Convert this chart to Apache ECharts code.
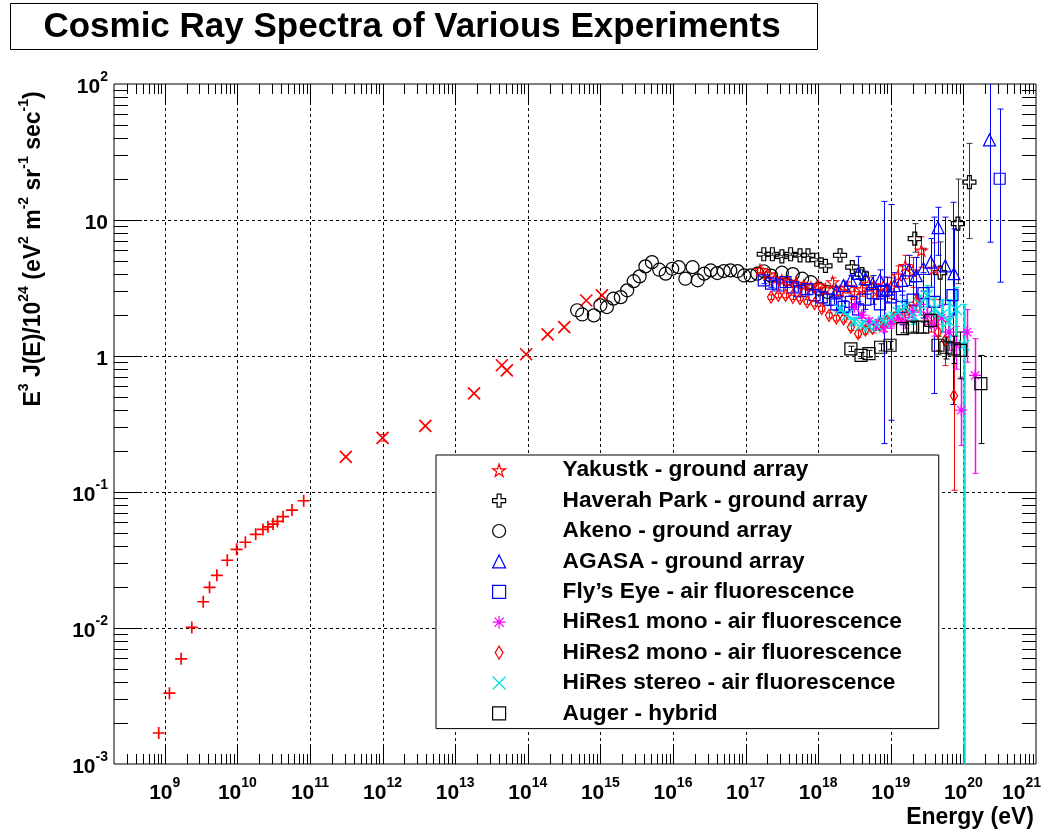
<!DOCTYPE html>
<html><head><meta charset="utf-8"><title>Cosmic Ray Spectra</title>
<script src="https://cdn.jsdelivr.net/npm/echarts@6.0.0/dist/echarts.min.js"></script>
<style>html,body{margin:0;padding:0;background:#fff;}#chart{width:1060px;height:830px;}</style>
</head><body><div id="chart"></div>
<script>
// ---------- axes ----------
const X_MIN = 2e8, X_MAX = 1e21, Y_MIN = 1e-3, Y_MAX = 1e2;
const xTickExps = [9, 10, 11, 12, 13, 14, 15, 16, 17, 18, 19, 20, 21];
const yTickValues = [1e-3, 1e-2, 1e-1, 1, 10, 100];
const yTickBase = ['10', '10', '10', '1', '10', '10'];
const yTickSup = ['-3', '-2', '-1', '', '', '2'];

// ---------- legend names ----------
const legendNames = [
  'Yakustk - ground array',
  'Haverah Park - ground array',
  'Akeno - ground array',
  'AGASA - ground array',
  'Fly\u2019s Eye - air fluorescence',
  'HiRes1 mono - air fluorescence',
  'HiRes2 mono - air fluorescence',
  'HiRes stereo - air fluorescence',
  'Auger - hybrid'
];

// ---------- data (E in eV, Y = E^3 J(E) / 1e24) ----------
// low-energy direct measurements (red +)
const directE = [8.26e8, 1.16e9, 1.68e9, 2.36e9, 3.39e9, 4.14e9, 5.22e9, 7.26e9, 9.77e9, 1.29e10, 1.79e10, 2.25e10, 2.64e10, 3.10e10, 3.56e10, 4.26e10, 5.66e10, 8.20e10];
const directY = [1.69e-3, 3.32e-3, 5.93e-3, 1.01e-2, 1.56e-2, 1.99e-2, 2.44e-2, 3.15e-2, 3.79e-2, 4.27e-2, 4.88e-2, 5.31e-2, 5.55e-2, 5.81e-2, 6.08e-2, 6.58e-2, 7.36e-2, 8.62e-2];
// mid-energy (red x)
const midE = [3.12e11, 1.0e12, 3.88e12, 1.82e13, 4.4e13, 5.15e13, 9.5e13, 1.88e14, 3.18e14, 6.4e14, 1.05e15];
const midY = [0.181, 0.25, 0.306, 0.532, 0.855, 0.785, 1.03, 1.44, 1.63, 2.56, 2.79];
const midErrE = [1.0e12];
const midErrLo = [0.237];
const midErrHi = [0.265];
// Yakutsk
const yakE = [1.58e17, 2.0e17, 2.51e17, 3.16e17, 3.98e17, 5.01e17, 6.31e17, 7.94e17, 1.0e18, 1.26e18, 1.58e18, 2.0e18, 2.51e18, 3.16e18, 3.98e18, 5.01e18, 6.31e18, 7.94e18, 1.0e19, 1.26e19, 1.58e19, 2.0e19, 2.63e19, 3.98e19];
const yakY = [4.3, 4.0, 3.7, 3.6, 3.5, 3.4, 3.3, 3.2, 3.3, 3.1, 3.5, 3.0, 3.2, 2.9, 3.1, 3.4, 3.0, 3.3, 3.2, 3.9, 4.6, 4.2, 5.97, 4.4];
const yakLo = [4.1, 3.85, 3.55, 3.45, 3.35, 3.25, 3.15, 3.05, 3.1, 2.9, 3.25, 2.75, 2.9, 2.6, 2.75, 3.0, 2.6, 2.8, 2.65, 3.2, 3.7, 3.2, 4.5, 2.6];
const yakHi = [4.5, 4.15, 3.85, 3.75, 3.65, 3.55, 3.45, 3.35, 3.5, 3.3, 3.75, 3.25, 3.5, 3.2, 3.45, 3.8, 3.4, 3.8, 3.75, 4.6, 5.5, 5.3, 7.5, 6.8];
// Haverah Park
const hpE = [1.78e17, 2.34e17, 3.16e17, 4.17e17, 5.62e17, 7.24e17, 9.55e17, 1.26e18, 2.0e18, 2.95e18, 4.0e18, 2.14e19, 4.79e19, 8.4e19, 1.21e20];
const hpY = [5.6, 5.6, 5.4, 5.6, 5.5, 5.5, 5.1, 4.6, 5.5, 4.5, 4.0, 7.3, 4.1, 9.4, 19.0];
const hpLo = [5.5, 5.5, 5.3, 5.5, 5.4, 5.4, 5.0, 4.5, 5.3, 4.3, 3.7, 5.8, 2.6, 3.4, 7.3];
const hpHi = [5.7, 5.7, 5.5, 5.7, 5.6, 5.6, 5.2, 4.7, 5.7, 4.7, 4.3, 9.4, 6.9, 20.0, 36.6];
// Akeno
const akE = [4.79e14, 5.62e14, 8.13e14, 1.0e15, 1.23e15, 1.51e15, 1.91e15, 2.34e15, 2.88e15, 3.47e15, 4.17e15, 5.13e15, 6.46e15, 7.94e15, 9.77e15, 1.2e16, 1.48e16, 1.86e16, 2.19e16, 2.69e16, 3.31e16, 4.07e16, 5.01e16, 6.17e16, 7.76e16, 9.55e16, 1.17e17, 1.45e17, 1.78e17, 2.24e17, 3.16e17, 4.47e17, 6.03e17, 7.94e17, 1.02e18, 1.35e18];
const akY = [2.17, 2.02, 1.99, 2.36, 2.29, 2.64, 2.71, 3.04, 3.55, 3.85, 4.56, 4.9, 4.31, 4.03, 4.38, 4.5, 3.7, 4.5, 3.6, 4.03, 4.26, 4.07, 4.21, 4.26, 4.21, 3.91, 3.91, 4.03, 4.2, 3.9, 4.1, 4.0, 3.7, 3.49, 3.12, 2.95];
// AGASA
const agE = [1.78e18, 2.24e18, 2.82e18, 3.55e18, 4.47e18, 5.62e18, 7.08e18, 8.91e18, 1.12e19, 1.41e19, 1.78e19, 2.24e19, 2.82e19, 3.55e19, 4.47e19, 5.62e19, 7.41e19, 2.29e20];
const agY = [3.0, 3.3, 3.6, 4.05, 3.7, 3.4, 3.6, 3.1, 3.3, 3.6, 4.3, 3.9, 4.4, 4.9, 8.8, 4.6, 4.03, 38.8];
const agLo = [2.8, 3.05, 3.3, 3.7, 3.3, 2.9, 3.0, 2.5, 2.6, 2.8, 3.3, 2.8, 3.0, 3.2, 5.5, 2.4, 2.0, 6.87];
const agHi = [3.2, 3.55, 3.9, 5.4, 4.2, 3.9, 4.3, 3.8, 4.1, 4.6, 5.5, 5.3, 6.2, 7.3, 12.4, 10.5, 8.6, 200];
// Fly's Eye
const feE = [1.78e17, 2.24e17, 2.82e17, 3.55e17, 4.47e17, 5.62e17, 7.08e17, 8.91e17, 1.12e18, 1.41e18, 1.78e18, 2.24e18, 2.82e18, 3.55e18, 4.47e18, 5.62e18, 7.08e18, 7.94e18, 1.0e19, 1.41e19, 2.0e19, 2.82e19, 3.98e19, 7.08e19, 3.16e20];
const feY = [3.6, 3.4, 3.3, 3.5, 3.2, 3.0, 3.1, 2.8, 2.7, 2.6, 2.4, 2.3, 2.5, 2.2, 2.6, 2.9, 2.4, 3.0, 2.7, 2.3, 2.6, 2.9, 2.5, 2.8, 20.1];
const feLo = [3.4, 3.2, 3.1, 3.3, 3.0, 2.8, 2.85, 2.55, 2.45, 2.35, 2.15, 2.05, 2.2, 1.9, 2.2, 2.4, 1.9, 0.227, 0.337, 1.7, 1.8, 1.9, 0.53, 0.44, 3.49];
const feHi = [3.8, 3.6, 3.5, 3.7, 3.4, 3.2, 3.35, 3.05, 2.95, 2.85, 2.65, 2.55, 2.8, 2.5, 3.0, 3.4, 3.0, 13.7, 13.0, 3.0, 3.5, 4.1, 10.5, 13.5, 65.5];
// HiRes1 mono
const h1E = [3.16e18, 3.98e18, 5.01e18, 6.31e18, 7.94e18, 1.0e19, 1.26e19, 1.58e19, 2.0e19, 2.51e19, 3.16e19, 3.98e19, 5.01e19, 6.31e19, 7.94e19, 9.33e19, 1.12e20, 1.45e20];
const h1Y = [2.3, 2.0, 1.8, 1.7, 1.6, 1.75, 1.9, 1.8, 2.1, 2.4, 2.0, 1.7, 1.9, 1.5, 1.2, 0.4, 1.5, 0.72];
const h1Lo = [2.2, 1.9, 1.7, 1.6, 1.5, 1.6, 1.75, 1.6, 1.85, 2.1, 1.7, 1.4, 1.5, 1.1, 0.8, 0.22, 0.9, 0.137];
const h1Hi = [2.4, 2.1, 1.9, 1.8, 1.7, 1.9, 2.05, 2.0, 2.35, 2.7, 2.3, 2.0, 2.35, 1.95, 1.65, 0.7, 2.2, 1.34];
// HiRes2 mono
const h2E = [2.24e17, 2.82e17, 3.55e17, 4.47e17, 5.62e17, 7.08e17, 8.91e17, 1.12e18, 1.41e18, 1.78e18, 2.24e18, 2.82e18, 3.55e18, 4.47e18, 5.62e18, 7.08e18, 8.91e18, 1.12e19, 1.41e19, 1.78e19, 2.24e19, 3.55e19, 4.47e19, 5.62e19, 7.41e19];
const h2Y = [2.71, 2.79, 2.79, 2.7, 2.64, 2.5, 2.43, 2.23, 1.99, 1.9, 1.88, 1.63, 1.46, 1.55, 1.6, 1.7, 1.8, 1.9, 2.0, 2.2, 2.5, 1.9, 1.5, 1.3, 0.51];
const h2Lo = [2.6, 2.68, 2.68, 2.6, 2.54, 2.4, 2.33, 2.13, 1.9, 1.81, 1.78, 1.54, 1.37, 1.45, 1.48, 1.56, 1.64, 1.72, 1.78, 1.92, 2.15, 1.5, 1.1, 0.85, 0.103];
const h2Hi = [2.82, 2.9, 2.9, 2.8, 2.74, 2.6, 2.53, 2.33, 2.08, 1.99, 1.98, 1.72, 1.55, 1.65, 1.72, 1.84, 1.96, 2.08, 2.22, 2.48, 2.85, 2.3, 1.95, 1.8, 1.0];
// HiRes stereo
const hsE = [2.0e18, 2.51e18, 3.16e18, 3.98e18, 5.01e18, 6.31e18, 7.94e18, 1.0e19, 1.26e19, 1.58e19, 2.0e19, 2.51e19, 3.16e19, 3.98e19, 5.01e19, 6.31e19, 7.94e19, 1.02e20];
const hsY = [2.2, 2.0, 1.8, 1.7, 1.65, 1.7, 1.8, 1.9, 2.1, 2.3, 2.0, 2.4, 2.8, 2.2, 2.0, 1.8, 2.2, 1.2];
const hsLo = [2.05, 1.86, 1.67, 1.57, 1.5, 1.54, 1.62, 1.7, 1.86, 2.0, 1.7, 2.0, 2.3, 1.75, 1.5, 1.2, 1.4, 1e-4];
const hsHi = [2.35, 2.14, 1.93, 1.83, 1.8, 1.86, 1.98, 2.1, 2.34, 2.6, 2.3, 2.8, 3.3, 2.7, 2.6, 2.6, 3.2, 2.4];
// Auger hybrid
const auE = [2.82e18, 3.89e18, 5.01e18, 7.24e18, 9.77e18, 1.45e19, 2.0e19, 2.75e19, 3.55e19, 4.47e19, 5.75e19, 7.41e19, 9.12e19, 1.74e20];
const auY = [1.13, 1.01, 1.04, 1.16, 1.2, 1.59, 1.63, 1.63, 1.83, 1.2, 1.16, 1.13, 1.1, 0.627];
const auLo = [1.08, 0.96, 0.98, 1.09, 1.12, 1.48, 1.5, 1.48, 1.63, 1.02, 0.95, 0.88, 0.68, 0.227];
const auHi = [1.18, 1.06, 1.1, 1.23, 1.28, 1.7, 1.76, 1.78, 2.03, 1.4, 1.38, 1.4, 1.5, 1.01];

// ---------- styling ----------
const FONT = '"Liberation Sans", Arial, Helvetica, sans-serif';
const RED = '#ff0000', BLUE = '#0000ff', MAG = '#ff00ff', CYAN = '#00e0e0', BLK = '#000000';
const SYM = {
  star: 'path://M50,0 L61,35 L98,35 L68,57 L79,91 L50,70 L21,91 L32,57 L2,35 L39,35 Z',
  openCross: 'path://M35,0 L65,0 L65,35 L100,35 L100,65 L65,65 L65,100 L35,100 L35,65 L0,65 L0,35 L35,35 Z',
  asterisk: 'path://M50,0 L50,100 M0,50 L100,50 M15,15 L85,85 M85,15 L15,85',
  narrowDiamond: 'path://M50,0 L80,50 L50,100 L20,50 Z',
  cross: 'path://M0,0 L100,100 M100,0 L0,100',
  plus: 'path://M50,0 L50,100 M0,50 L100,50'
};

const zip2 = (a, b) => a.map((v, i) => [v, b[i]]);
const zip3 = (a, b, c) => a.map((v, i) => [v, b[i], c[i]]);

function scatter(name, E, Y, symbol, size, color, lw) {
  return {
    name, type: 'scatter', data: zip2(E, Y), symbol, symbolSize: size, symbolKeepAspect: true,
    itemStyle: { color: 'rgba(0,0,0,0)', borderColor: color, borderWidth: lw, opacity: 1 },
    emphasis: { disabled: true }, silent: true, z: 4
  };
}

function errorBars(E, Lo, Hi, color, lw) {
  return {
    type: 'custom', data: zip3(E, Lo, Hi), silent: true, z: 3,
    renderItem(params, api) {
      const cs = params.coordSys;
      const x = api.value(0);
      const lo = Math.max(api.value(1), Y_MIN), hi = Math.min(api.value(2), Y_MAX);
      const p1 = api.coord([x, lo]), p2 = api.coord([x, hi]);
      const top = cs.y, bot = cs.y + cs.height;
      const y1 = Math.min(Math.max(p1[1], top), bot), y2 = Math.min(Math.max(p2[1], top), bot);
      const xx = Math.round(p1[0]) + 0.5;
      const ch = [{ type: 'line', shape: { x1: xx, y1: y1, x2: xx, y2: y2 }, style: { stroke: color, lineWidth: lw } }];
      if (api.value(1) > Y_MIN) ch.push({ type: 'line', shape: { x1: xx - 3, y1: y1, x2: xx + 3, y2: y1 }, style: { stroke: color, lineWidth: 1 } });
      if (api.value(2) < Y_MAX) ch.push({ type: 'line', shape: { x1: xx - 3, y1: y2, x2: xx + 3, y2: y2 }, style: { stroke: color, lineWidth: 1 } });
      return { type: 'group', children: ch };
    }
  };
}

// minor tick values (2..9 per decade)
const xMinor = [], yMinor = [];
for (let e = 8; e <= 20; e++) for (let m = 2; m <= 9; m++) { const v = m * Math.pow(10, e); if (v > X_MIN * 1.0001 && v < X_MAX) xMinor.push([v, Y_MIN]); }
for (let e = -3; e <= 1; e++) for (let m = 2; m <= 9; m++) { yMinor.push([X_MIN, m * Math.pow(10, e)]); }

const LBL_RICH = {
  b: { fontFamily: FONT, fontWeight: 'bold', fontSize: 21, lineHeight: 28, verticalAlign: 'bottom', fill: '#000' },
  s: { fontFamily: FONT, fontWeight: 'bold', fontSize: 14, lineHeight: 17, verticalAlign: 'top', fill: '#000' }
};
const DOT = [3, 3];

const decoSeries = [
  { // x decades: grid, ticks, labels
    type: 'custom', silent: true, z: 1,
    data: xTickExps.map(e => [Math.pow(10, e), Y_MIN, e]),
    renderItem(params, api) {
      const v = api.value(0), e = api.value(2);
      const b = api.coord([v, Y_MIN]), t = api.coord([v, Y_MAX]);
      const x = Math.round(b[0]) + 0.5;
      const ch = [];
      if (v < X_MAX) {
        ch.push({ type: 'line', shape: { x1: x, y1: t[1], x2: x, y2: b[1] }, style: { stroke: '#000', lineWidth: 1, lineDash: DOT } });
        ch.push({ type: 'line', shape: { x1: x, y1: b[1], x2: x, y2: b[1] - 20 }, style: { stroke: '#000', lineWidth: 1 } });
        ch.push({ type: 'line', shape: { x1: x, y1: t[1], x2: x, y2: t[1] + 20 }, style: { stroke: '#000', lineWidth: 1 } });
      }
      const last = v >= X_MAX;
      ch.push({ type: 'text', x: last ? b[0] + 5 : b[0], y: b[1] + 12, style: { text: '{b|10}{s|' + e + '}', rich: LBL_RICH, align: last ? 'right' : 'center', verticalAlign: 'top' } });
      return { type: 'group', children: ch };
    }
  },
  { // y decades: grid, ticks, labels
    type: 'custom', silent: true, z: 1,
    data: yTickValues.map((v, i) => [X_MIN, v, i]),
    renderItem(params, api) {
      const v = api.value(1), i = api.value(2);
      const l = api.coord([X_MIN, v]), r = api.coord([X_MAX, v]);
      const y = Math.round(l[1]) + 0.5;
      const ch = [];
      if (v > Y_MIN && v < Y_MAX) {
        ch.push({ type: 'line', shape: { x1: l[0], y1: y, x2: r[0], y2: y }, style: { stroke: '#000', lineWidth: 1, lineDash: DOT } });
        ch.push({ type: 'line', shape: { x1: l[0], y1: y, x2: l[0] + 28, y2: y }, style: { stroke: '#000', lineWidth: 1 } });
        ch.push({ type: 'line', shape: { x1: r[0], y1: y, x2: r[0] - 28, y2: y }, style: { stroke: '#000', lineWidth: 1 } });
      }
      const txt = yTickSup[i] ? '{b|' + yTickBase[i] + '}{s|' + yTickSup[i] + '}' : '{b|' + yTickBase[i] + '}';
      ch.push({ type: 'text', x: l[0] - 6, y: l[1], style: { text: txt, rich: LBL_RICH, align: 'right', verticalAlign: 'middle' } });
      return { type: 'group', children: ch };
    }
  },
  { // x minor ticks
    type: 'custom', silent: true, z: 1, data: xMinor,
    renderItem(params, api) {
      const v = api.value(0);
      const b = api.coord([v, Y_MIN]), t = api.coord([v, Y_MAX]);
      const x = Math.round(b[0]) + 0.5;
      return { type: 'group', children: [
        { type: 'line', shape: { x1: x, y1: b[1], x2: x, y2: b[1] - 10 }, style: { stroke: '#000', lineWidth: 1 } },
        { type: 'line', shape: { x1: x, y1: t[1], x2: x, y2: t[1] + 10 }, style: { stroke: '#000', lineWidth: 1 } }
      ] };
    }
  },
  { // y minor ticks
    type: 'custom', silent: true, z: 1, data: yMinor,
    renderItem(params, api) {
      const v = api.value(1);
      const l = api.coord([X_MIN, v]), r = api.coord([X_MAX, v]);
      const y = Math.round(l[1]) + 0.5;
      return { type: 'group', children: [
        { type: 'line', shape: { x1: l[0], y1: y, x2: l[0] + 14, y2: y }, style: { stroke: '#000', lineWidth: 1 } },
        { type: 'line', shape: { x1: r[0], y1: y, x2: r[0] - 14, y2: y }, style: { stroke: '#000', lineWidth: 1 } }
      ] };
    }
  }
];

const dataSeries = [
  scatter('direct', directE, directY, SYM.plus, 12, RED, 1.7),
  errorBars(midErrE, midErrLo, midErrHi, RED, 1),
  scatter('mid', midE, midY, SYM.cross, 12, RED, 1.7),
  scatter(legendNames[2], akE, akY, 'circle', 13, BLK, 1.2),
  errorBars(hpE, hpLo, hpHi, '#333333', 1),
  scatter(legendNames[1], hpE, hpY, SYM.openCross, 13, BLK, 1.2),
  errorBars(yakE, yakLo, yakHi, RED, 1),
  scatter(legendNames[0], yakE, yakY, SYM.star, 12, RED, 1.1),
  errorBars(feE, feLo, feHi, BLUE, 1),
  scatter(legendNames[4], feE, feY, 'rect', 11, BLUE, 1.2),
  errorBars(agE, agLo, agHi, BLUE, 1),
  scatter(legendNames[3], agE, agY, 'triangle', 12, BLUE, 1.2),
  errorBars(h2E, h2Lo, h2Hi, RED, 1),
  scatter(legendNames[6], h2E, h2Y, SYM.narrowDiamond, 12, RED, 1.2),
  errorBars(h1E, h1Lo, h1Hi, MAG, 1.5),
  scatter(legendNames[5], h1E, h1Y, SYM.asterisk, 12, MAG, 1.2),
  errorBars(hsE, hsLo, hsHi, CYAN, 2.5),
  scatter(legendNames[7], hsE, hsY, SYM.cross, 11, CYAN, 1.4),
  errorBars(auE, auLo, auHi, BLK, 1),
  scatter(legendNames[8], auE, auY, 'rect', 12, BLK, 1.2)
];

const legendIcons = [
  [SYM.star, RED], [SYM.openCross, BLK], ['circle', BLK], ['triangle', BLUE], ['rect', BLUE],
  [SYM.asterisk, MAG], [SYM.narrowDiamond, RED], [SYM.cross, CYAN], ['rect', BLK]
];

const option = {
  animation: false,
  backgroundColor: '#ffffff',
  grid: { left: 114, right: 24, top: 84, bottom: 66, show: true, borderColor: '#000', borderWidth: 1, backgroundColor: 'rgba(0,0,0,0)' },
  xAxis: { type: 'log', logBase: 10, min: X_MIN, max: X_MAX, axisLine: { show: false }, axisTick: { show: false }, axisLabel: { show: false }, splitLine: { show: false } },
  yAxis: { type: 'log', logBase: 10, min: Y_MIN, max: Y_MAX, axisLine: { show: false }, axisTick: { show: false }, axisLabel: { show: false }, splitLine: { show: false } },
  legend: {
    orient: 'vertical', left: 436, top: 455, itemWidth: 13, itemHeight: 13, itemGap: 0,
    padding: [0, 37, 0, 56], backgroundColor: '#fff', borderColor: '#000', borderWidth: 1,
    selectedMode: false, symbolKeepAspect: true,
    textStyle: { fontFamily: FONT, fontWeight: 'bold', fontSize: 22.7, color: '#000', lineHeight: 30.4, padding: [0, 0, 0, 52] },
    data: legendNames.map((n, i) => ({ name: n, icon: legendIcons[i][0], itemStyle: { color: 'rgba(0,0,0,0)', borderColor: legendIcons[i][1], borderWidth: 1.2 } }))
  },
  graphic: [
    { type: 'rect', shape: { x: 10.5, y: 3.5, width: 807, height: 46 }, style: { fill: '#fff', stroke: '#000', lineWidth: 1 } },
    { type: 'text', x: 412, y: 27, style: { text: 'Cosmic Ray Spectra of Various Experiments', fontFamily: FONT, fontWeight: 'bold', fontSize: 35, fill: '#000', align: 'center', verticalAlign: 'middle' } },
    { type: 'text', x: 31, y: 249, rotation: Math.PI / 2, style: {
        text: '{b|E}{s|3}{b| J(E)/10}{s|24}{b| (eV}{s|2}{b| m}{s|-2}{b| sr}{s|-1}{b| sec}{s|-1}{b|)}',
        align: 'center', verticalAlign: 'middle',
        rich: {
          b: { fontFamily: FONT, fontWeight: 'bold', fontSize: 23, lineHeight: 28, verticalAlign: 'bottom', fill: '#000' },
          s: { fontFamily: FONT, fontWeight: 'bold', fontSize: 14, lineHeight: 17, verticalAlign: 'top', fill: '#000' }
        } } },
    { type: 'text', x: 1034, y: 818, style: { text: 'Energy (eV)', fontFamily: FONT, fontWeight: 'bold', fontSize: 23, fill: '#000', align: 'right', verticalAlign: 'middle' } }
  ],
  series: decoSeries.concat(dataSeries)
};

const chart = echarts.init(document.getElementById('chart'), null, { renderer: 'canvas', width: 1060, height: 830 });
chart.setOption(option);
</script></body></html>
